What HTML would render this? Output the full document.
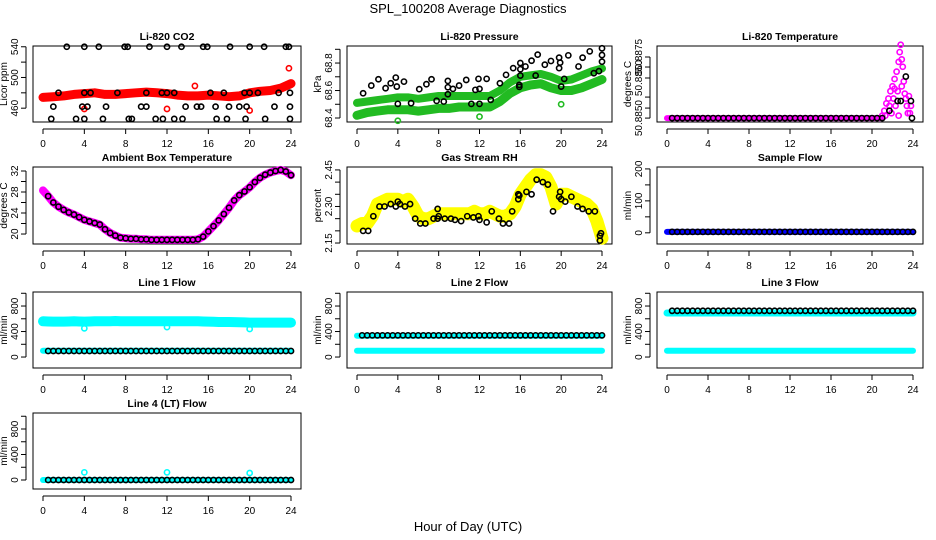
<!DOCTYPE html>
<html><head><meta charset="utf-8"><style>
html,body{margin:0;padding:0;background:#fff;}
svg{display:block;font-family:"Liberation Sans",sans-serif;}
</style></head><body>
<svg id="chart" width="936" height="540" viewBox="0 0 936 540" xmlns="http://www.w3.org/2000/svg">
<rect width="936" height="540" fill="#fff"/>
<text x="468" y="13" text-anchor="middle" font-size="13">SPL_100208  Average Diagnostics</text>
<text x="468" y="531" text-anchor="middle" font-size="13">Hour of Day (UTC)</text>
</svg>
<script>
// ---------- data ----------
const xTicks = [0,4,8,12,16,20,24];
const hourly = [0,1,2,3,4,5,6,7,8,9,10,11,12,13,14,15,16,17,18,19,20,21,22,23,24];
const halfHours = [0,0.5,1,1.5,2,2.5,3,3.5,4,4.5,5,5.5,6,6.5,7,7.5,8,8.5,9,9.5,10,10.5,11,11.5,12,12.5,13,13.5,14,14.5,15,15.5,16,16.5,17,17.5,18,18.5,19,19.5,20,20.5,21,21.5,22,22.5,23,23.5,24];

// CO2
const co2Band = [474,475,476,478,479,480,478,478,479,480,481,480,479,477,476,476,477,476,475,476,480,482,483,486,492];
const co2RedOutHours = [4,12,20,14.7,23.8];
const co2RedOutVals = [459,459,457,489,512];
const co2BlackHours = [2.3,4,5.4,7.9,8.2,10.3,12,13.4,15.5,15.9,18.1,20,21.4,23.5,23.8, 1.5,4,4.6,7.2,10,11.5,12,12.7,16.2,17.5,19.5,20,20.8,22.8,23.9, 1,3.8,4.3,6.1,9.5,10,13.8,14.9,15.3,16.7,18,19,19.7,22.4,23.9, 0.8,3.2,4,5.8,8.3,8.6,10.9,11.6,12.7,13.5,16.8,17.8,19.6,21.5,23.9];
const co2BlackVals = [540,540,540,540,540,540,540,540,540,540,540,540,540,540,540, 480,480,480,480,480,480,480,480,480,480,480,480,480,480,480, 462,462,462,462,462,462,462,462,462,462,462,462,462,462,462, 446,446,446,446,446,446,446,446,446,446,446,446,446,446,446];

// Pressure
const presUpper = [68.51,68.52,68.53,68.54,68.55,68.55,68.54,68.55,68.56,68.56,68.56,68.56,68.56,68.56,68.60,68.66,68.70,68.71,68.72,68.70,68.67,68.68,68.71,68.74,68.76];
const presLower = [68.42,68.44,68.45,68.46,68.46,68.46,68.45,68.46,68.47,68.47,68.48,68.48,68.48,68.48,68.52,68.58,68.62,68.64,68.65,68.62,68.60,68.60,68.62,68.65,68.68];
const presGreenOutHours = [4,12,20];
const presGreenOutVals = [68.38,68.41,68.50];
const presBlackHours = [0.6,1.4,2.1,2.8,3.3,3.8,3.9,4,4.6,5.3,6.1,6.8,7.3,7.8,8.5,8.9,8.9,8.9,9.4,10,10.7,11.2,11.6,12,12,11.9,12.7,13.1,14,14.6,15.3,15.9,15.9,16,16,16,16.5,17.1,17.7,17.5,18.4,19,19.8,19.9,19.8,20,20.7,20.3,21.7,22.1,22.8,23.2,23.7,24,24,24];
const presBlackVals = [68.580,68.636,68.682,68.617,68.653,68.694,68.629,68.503,68.665,68.508,68.610,68.646,68.682,68.525,68.520,68.670,68.624,68.573,68.612,68.636,68.677,68.503,68.605,68.612,68.503,68.685,68.685,68.532,68.653,68.714,68.763,68.627,68.641,68.800,68.755,68.709,68.775,68.817,68.861,68.709,68.788,68.815,68.839,68.803,68.763,68.629,68.856,68.685,68.775,68.839,68.885,68.726,68.741,68.907,68.858,68.810];

// Li-820 temperature
const tempFlat = [50.8850,50.8850,50.8850,50.8850,50.8850,50.8850,50.8850,50.8850,50.8850,50.8850,50.8850,50.8850,50.8850,50.8850,50.8850,50.8850,50.8850,50.8850,50.8850,50.8850,50.8850,50.8850,50.8850,50.8850,50.8850,50.8850,50.8850,50.8850,50.8850,50.8850,50.8850,50.8850,50.8850,50.8850,50.8850,50.8850,50.8850,50.8850,50.8850,50.8850,50.8850,50.8850,50.8850];
const tempSpikeHours = [21,21.2,21.4,21.6,21.8,22,22.2,22.4,22.6,22.7,22.8,22.9,23,23.1,23.2,23.4,23.5,23.6,23.7,22.1,22.3,22.5,22.9,21.9,22.6,23.3,21.3,21.7,22.2,23.8];
const tempSpikeVals = [50.8851,50.8853,50.8856,50.8858,50.8861,50.8863,50.8866,50.8869,50.8873,50.8877,50.8880,50.8874,50.8871,50.8865,50.8860,50.8855,50.8852,50.8859,50.8852,50.8858,50.8855,50.8861,50.8863,50.8852,50.8851,50.8858,50.8851,50.8855,50.8862,50.8855];
const tempBlackHours = [21.7,22.5,22.8,23.3,23.8,23.9];
const tempBlackVals = [50.8853,50.8857,50.8857,50.8867,50.8857,50.8850];

// Ambient box temperature (half-hourly)
const ambient = [28.3,27.2,26.0,25.2,24.6,24.1,23.7,23.2,22.7,22.4,22.1,21.8,20.9,20.2,19.7,19.3,19.2,19.1,19.1,19.0,19.0,18.9,18.9,18.9,18.9,18.9,18.9,18.9,18.9,18.9,19.0,19.5,20.5,21.5,22.6,23.8,25.0,26.4,27.4,28.1,28.9,29.9,30.7,31.3,31.7,32.0,32.2,31.9,31.2];

// Gas stream RH
const rhBand = [2.22,2.23,2.23,2.26,2.31,2.32,2.33,2.33,2.33,2.32,2.33,2.30,2.26,2.25,2.25,2.26,2.27,2.27,2.27,2.27,2.27,2.27,2.27,2.28,2.27,2.27,2.28,2.27,2.26,2.26,2.27,2.30,2.35,2.38,2.41,2.43,2.43,2.42,2.38,2.31,2.35,2.35,2.34,2.33,2.32,2.31,2.29,2.24,2.17];
const rhBlackHours = [0.6,1.1,1.6,2.2,2.7,3.3,3.8,4,4.2,4.7,5.2,5.7,6.2,6.7,7.5,7.9,7.9,8,8.6,9.2,9.6,10.2,10.8,11.4,11.9,12,12.7,13.2,13.9,14.3,14.9,15.2,15.8,15.8,15.9,16.6,17.1,17.6,18.2,18.7,19.2,19.8,19.9,20,20.4,21,21.6,22.1,22.7,23.3,23.8,23.9,23.8];
const rhBlackVals = [2.20,2.20,2.26,2.30,2.30,2.31,2.30,2.32,2.31,2.30,2.31,2.25,2.23,2.23,2.25,2.29,2.25,2.26,2.25,2.25,2.245,2.24,2.26,2.255,2.26,2.245,2.235,2.28,2.25,2.23,2.23,2.28,2.33,2.35,2.345,2.36,2.35,2.41,2.40,2.39,2.28,2.34,2.36,2.33,2.32,2.34,2.30,2.29,2.28,2.28,2.18,2.19,2.16];

// Flows (half-hourly)
const sampleFlow = [3,3,3,3,3,3,3,3,3,3,3,3,3,3,3,3,3,3,3,3,3,3,3,3,3,3,3,3,3,3,3,3,3,3,3,3,3,3,3,3,3,3,3,3,3,3,3,3,3];
const line1Upper = [560,558,555,555,555,557,560,558,555,558,560,560,560,562,565,562,560,560,560,560,560,560,560,560,560,560,560,560,560,560,560,558,555,553,550,550,550,548,545,543,540,540,540,540,540,540,540,540,540];
const line1Lower = [100,100,100,100,100,100,100,100,100,100,100,100,100,100,100,100,100,100,100,100,100,100,100,100,100,100,100,100,100,100,100,100,100,100,100,100,100,100,100,100,100,100,100,100,100,100,100,100,100];
const line1Black = [95,95,95,95,95,95,95,95,95,95,95,95,95,95,95,95,95,95,95,95,95,95,95,95,95,95,95,95,95,95,95,95,95,95,95,95,95,95,95,95,95,95,95,95,95,95,95,95,95];
const line1OutHours = [4,12,20];
const line1OutVals = [450,470,440];
const line2Upper = [335,335,335,335,335,335,335,335,335,335,335,335,335,335,335,335,335,335,335,335,335,335,335,335,335,335,335,335,335,335,335,335,335,335,335,335,335,335,335,335,335,335,335,335,335,335,335,335,335];
const line2Black = [340,340,340,340,340,340,340,340,340,340,340,340,340,340,340,340,340,340,340,340,340,340,340,340,340,340,340,340,340,340,340,340,340,340,340,340,340,340,340,340,340,340,340,340,340,340,340,340,340];
const line2Lower = line1Lower;
const line3Upper = [690,690,690,690,690,690,690,690,690,690,690,690,690,690,690,690,690,690,690,690,690,690,690,690,690,690,690,690,690,690,690,690,690,690,690,690,690,690,690,690,690,690,690,690,690,690,690,690,690];
const line3Black = [725,725,725,725,725,725,725,725,725,725,725,725,725,725,725,725,725,725,725,725,725,725,725,725,725,725,725,725,725,725,725,725,725,725,725,725,725,725,725,725,725,725,725,725,725,725,725,725,725];
const line3Lower = line1Lower;
const line4Flow = [0,0,0,0,0,0,0,0,0,0,0,0,0,0,0,0,0,0,0,0,0,0,0,0,0,0,0,0,0,0,0,0,0,0,0,0,0,0,0,0,0,0,0,0,0,0,0,0,0];
const line4OutHours = [4,12,20];
const line4OutVals = [120,120,110];

// ---------- drawing ----------
const svg = document.getElementById('chart');
const NS = 'http://www.w3.org/2000/svg';
const cols = [[33,301],[347,612],[657,923]];
const rows = [[46,122],[167,244],[292,368],[413,489]];

function mk(tag, attrs, parent){
  const e = document.createElementNS(NS, tag);
  for (const k in attrs) e.setAttribute(k, attrs[k]);
  (parent||svg).appendChild(e);
  return e;
}

function panel(cfg){
  const [L,R] = cols[cfg.col], [T,B] = rows[cfg.row];
  const g = mk('g', {});
  
  
  const xs = h => (L+10) + h/24*((R-10)-(L+10));
  const ys = v => B - (v-cfg.ymin)/(cfg.ymax-cfg.ymin)*(B-T);
  const t = mk('text', {x:(L+R)/2, y:T-6, 'text-anchor':'middle', 'font-size':10.5, 'font-weight':'bold'}, g);
  t.textContent = cfg.title;
  
  
  const box = mk('rect', {x:L, y:T, width:R-L, height:B-T, fill:'none', stroke:'#000', 'stroke-width':1}, g);
  
  
  const xa = mk('g', {}, g);
  
  
  mk('line', {x1:xs(0), x2:xs(24), y1:B+7, y2:B+7, stroke:'#000'}, xa);
  xTicks.forEach(v => {
    mk('line', {x1:xs(v), x2:xs(v), y1:B+7, y2:B+12, stroke:'#000'}, xa);
    const tl = mk('text', {x:xs(v), y:B+25, 'text-anchor':'middle', 'font-size':10}, xa);
    tl.textContent = v;
  });
  const ya = mk('g', {}, g);
  
  
  const yt = cfg.ticks;
  mk('line', {x1:L-7, x2:L-7, y1:ys(yt[0]), y2:ys(yt[yt.length-1]), stroke:'#000'}, ya);
  yt.forEach(v => mk('line', {x1:L-12, x2:L-7, y1:ys(v), y2:ys(v), stroke:'#000'}, ya));
  cfg.labels.forEach((lab,i) => {
    const y = ys(cfg.labelVals[i]);
    const tl = mk('text', {x:L-15, y:y, 'text-anchor':'middle', 'font-size':10, transform:`rotate(-90 ${L-15} ${y})`}, ya);
    tl.textContent = lab;
  });
  const yl = mk('text', {x:L-26, y:(T+B)/2, 'text-anchor':'middle', 'font-size':10, transform:`rotate(-90 ${L-26} ${(T+B)/2})`}, g);
  yl.textContent = cfg.ylab;
  
  
  return {g, xs, ys};
}

function band(p, hours, vals, color, w, name){
  const pts = hours.map((h,i)=> p.xs(h).toFixed(1)+','+p.ys(vals[i]).toFixed(1)).join(' ');
  const pl = mk('polyline', {points:pts, fill:'none', stroke:color, 'stroke-width':w, 'stroke-linejoin':'round', 'stroke-linecap':'round'}, p.g);
  
  
}
function pts(p, hours, vals, color, name, r){
  const g = mk('g', {}, p.g);
  
  
  hours.forEach((h,i) => {
    mk('circle', {cx:p.xs(h), cy:p.ys(vals[i]), r:r||2.6, fill:'none', stroke:color, 'stroke-width':1.6}, g);
  });
}

// Panel 1
let p = panel({name:'co2', col:0, row:0, title:'Li-820 CO2', ylab:'Licor ppm', ymin:442, ymax:541,
  ticks:[460,480,500,520,540], labels:['460','500','540'], labelVals:[460,500,540]});
band(p, hourly, co2Band, '#ff0000', 9, 'co2-red-band');
pts(p, co2RedOutHours, co2RedOutVals, '#ff0000', 'co2-red-outliers');
pts(p, co2BlackHours, co2BlackVals, '#000', 'co2-black-points');

// Panel 2
p = panel({name:'pressure', col:1, row:0, title:'Li-820 Pressure', ylab:'kPa', ymin:68.371, ymax:68.924,
  ticks:[68.4,68.5,68.6,68.7,68.8,68.9], labels:['68.4','68.6','68.8'], labelVals:[68.4,68.6,68.8]});
band(p, hourly, presUpper, '#22bb22', 8, 'pressure-upper-band');
band(p, hourly, presLower, '#22bb22', 9, 'pressure-lower-band');
pts(p, presGreenOutHours, presGreenOutVals, '#22bb22', 'pressure-green-outliers');
pts(p, presBlackHours, presBlackVals, '#000', 'pressure-black-points');

// Panel 3
p = panel({name:'li820-temp', col:2, row:0, title:'Li-820 Temperature', ylab:'degrees C', ymin:50.88484, ymax:50.88795,
  ticks:[50.8850,50.88541,50.88586,50.88664,50.88709,50.8875], labels:['50.8850','50.8850','50.8875'], labelVals:[50.8850,50.88664,50.8875]});
const flatH = halfHours.slice(0,43);
band(p, flatH, tempFlat, '#ff00ff', 6, 'temp-magenta-band');
pts(p, tempSpikeHours, tempSpikeVals, '#ff00ff', 'temp-magenta-spikes');
pts(p, flatH.slice(1), tempFlat.slice(1), '#000', 'temp-black-points');
pts(p, tempBlackHours, tempBlackVals, '#000', 'temp-black-spike-points');

// Panel 4
p = panel({name:'ambient-temp', col:0, row:1, title:'Ambient Box Temperature', ylab:'degrees C', ymin:18.1, ymax:32.76,
  ticks:[20,22,24,26,28,30,32], labels:['20','24','28','32'], labelVals:[20,24,28,32]});
band(p, halfHours, ambient, '#ff00ff', 8, 'ambient-magenta-band');
pts(p, halfHours.slice(1), ambient.slice(1), '#000', 'ambient-black-points');

// Panel 5
p = panel({name:'rh', col:1, row:1, title:'Gas Stream RH', ylab:'percent', ymin:2.146, ymax:2.462,
  ticks:[2.15,2.20,2.25,2.30,2.35,2.40,2.45], labels:['2.15','2.30','2.45'], labelVals:[2.15,2.30,2.45]});
band(p, halfHours, rhBand, '#ffff00', 13, 'rh-yellow-band');
pts(p, rhBlackHours, rhBlackVals, '#000', 'rh-black-points');

// Panel 6
p = panel({name:'sample-flow', col:2, row:1, title:'Sample Flow', ylab:'ml/min', ymin:-35, ymax:206,
  ticks:[0,50,100,150,200], labels:['0','100','200'], labelVals:[0,100,200]});
band(p, halfHours, sampleFlow, '#0000ff', 6, 'sample-blue-band');
pts(p, halfHours.slice(1), sampleFlow.slice(1), '#000', 'sample-black-points');

const flowTicks = [0,200,400,600,800,1000];
// Line 1
p = panel({name:'line1-flow', col:0, row:2, title:'Line 1 Flow', ylab:'ml/min', ymin:-172, ymax:1020,
  ticks:flowTicks, labels:['0','400','800'], labelVals:[0,400,800]});
band(p, halfHours, line1Upper, '#00ffff', 10, 'line1-upper-band');
band(p, halfHours, line1Lower, '#00ffff', 6, 'line1-lower-band');
pts(p, line1OutHours, line1OutVals, '#00ffff', 'line1-outliers');
pts(p, halfHours.slice(1), line1Black.slice(1), '#000', 'line1-black-points');

// Line 2
p = panel({name:'line2-flow', col:1, row:2, title:'Line 2 Flow', ylab:'ml/min', ymin:-172, ymax:1020,
  ticks:flowTicks, labels:['0','400','800'], labelVals:[0,400,800]});
band(p, halfHours, line2Upper, '#00ffff', 6, 'line2-upper-band');
band(p, halfHours, line2Lower, '#00ffff', 6, 'line2-lower-band');
pts(p, halfHours.slice(1), line2Black.slice(1), '#000', 'line2-black-points');

// Line 3
p = panel({name:'line3-flow', col:2, row:2, title:'Line 3 Flow', ylab:'ml/min', ymin:-172, ymax:1020,
  ticks:flowTicks, labels:['0','400','800'], labelVals:[0,400,800]});
band(p, halfHours, line3Upper, '#00ffff', 7, 'line3-upper-band');
band(p, halfHours, line3Lower, '#00ffff', 6, 'line3-lower-band');
pts(p, halfHours.slice(1), line3Black.slice(1), '#000', 'line3-black-points');

// Line 4
p = panel({name:'line4-flow', col:0, row:3, title:'Line 4 (LT) Flow', ylab:'ml/min', ymin:-141, ymax:1051,
  ticks:flowTicks, labels:['0','400','800'], labelVals:[0,400,800]});
band(p, halfHours, line4Flow, '#00ffff', 6, 'line4-cyan-band');
pts(p, line4OutHours, line4OutVals, '#00ffff', 'line4-outliers');
pts(p, halfHours.slice(1), line4Flow.slice(1), '#000', 'line4-black-points');
</script>
</body></html>
